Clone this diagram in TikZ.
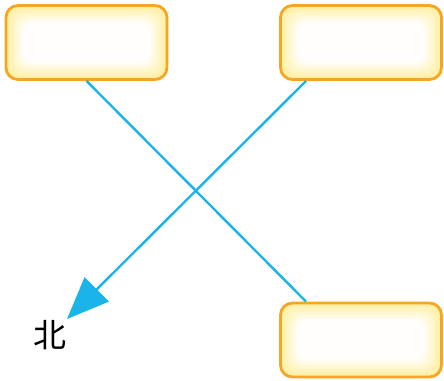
\documentclass[tikz,border=0pt]{standalone}
\usepackage{fontspec}
\newfontfamily\cjk{Noto Sans CJK SC}
\usetikzlibrary{arrows.meta}
\definecolor{boxedge}{HTML}{F5A623}
\definecolor{glow}{HTML}{FFEF9E}
\definecolor{linec}{HTML}{1AB4E8}
\tikzset{
  card/.style={draw=boxedge, line width=2.8pt, rounded corners=12pt,
    minimum width=161pt, minimum height=74pt, inner sep=0pt,
    path picture={
      \foreach \i in {0,...,13}{
        \pgfmathsetmacro{\mix}{100-\i*7.5}
        \fill[glow!\mix!white, rounded corners=12pt]
          ([shift={(\i*1.3pt,-\i*1.3pt)}]path picture bounding box.north west)
          rectangle ([shift={(-\i*1.3pt,\i*1.3pt)}]path picture bounding box.south east);
      }
    }},
  conn/.style={draw=linec, line width=2.4pt}
}
\begin{document}
\begin{tikzpicture}[x=1pt,y=-1pt]
\useasboundingbox (0,0) rectangle (444,380);
\node[card] (b1) at (86.5,42.5) {};
\node[card] (b2) at (361,42.5) {};
\node[card] (b3) at (361,340) {};
\coordinate (tip) at (67,319);
\node[font=\cjk\fontsize{33}{35}\selectfont, inner sep=0pt] (north) at (50,335) {北};
\draw[conn] (b1.south) -- ([xshift=27pt]b3.north west);
\draw[conn, -{Triangle[length=42pt,width=34pt]}] ([xshift=27pt]b2.south west) -- (tip);
\end{tikzpicture}
\end{document}
